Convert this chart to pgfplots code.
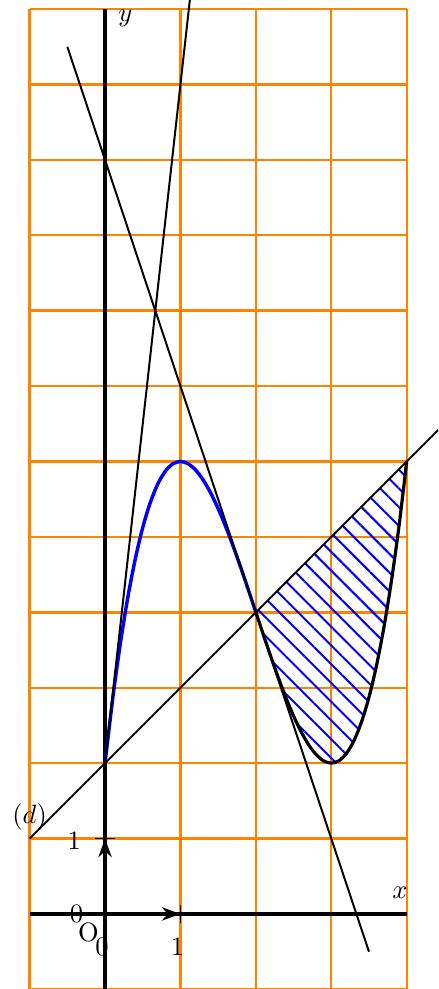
\documentclass[border=0pt]{standalone}
\usepackage{pgfplots}
\pgfplotsset{compat=1.18}
\usetikzlibrary{arrows.meta,patterns.meta}
\definecolor{gridOrange}{RGB}{255,130,0}
\begin{document}
\begin{tikzpicture}
\begin{axis}[name=ax,x=1cm,y=1cm,xmin=-1.393,xmax=4.416,ymin=-0.995,ymax=12.12,
  hide axis,clip=true]
% grid
\pgfplotsinvokeforeach{-1,...,4}{\addplot[gridOrange,line width=0.9pt] coordinates {(#1,-1)(#1,12)};}
\pgfplotsinvokeforeach{-1,...,12}{\addplot[gridOrange,line width=0.9pt] coordinates {(-1,#1)(4,#1)};}
% hatched area between (d) and the curve
\addplot[draw=none,pattern={Lines[angle=-45,distance=5pt,line width=0.75pt]},pattern color=blue]
 coordinates {(2,4)(2.1,3.701)(2.2,3.408)(2.3,3.127)(2.4,2.864)(2.5,2.625)(2.6,2.416)(2.7,2.243)
 (2.8,2.112)(2.9,2.029)(3,2)(3.1,2.031)(3.2,2.128)(3.3,2.297)(3.4,2.544)(3.5,2.875)(3.6,3.296)
 (3.7,3.813)(3.8,4.432)(3.9,5.159)(4,6)(2,4)};
% axes
\addplot[black,line width=1.2pt] coordinates {(-1,0)(4,0)};
\addplot[black,line width=1.2pt] coordinates {(0,-1)(0,12)};
\addplot[black,line width=1.6pt,-{Stealth[length=7pt,width=5pt]}] coordinates {(0,0)(1,0)};
\addplot[black,line width=1.6pt,-{Stealth[length=7pt,width=5pt]}] coordinates {(0,0)(0,1)};
\addplot[black,line width=0.5pt] coordinates {(1,-0.12)(1,0.12)};
\addplot[black,line width=0.5pt] coordinates {(-0.13,1)(0.13,1)};
% curve
\addplot[blue,line width=1.3pt,smooth] coordinates {(0,2)(0.1,2.841)(0.2,3.568)(0.3,4.187)(0.4,4.704)
 (0.5,5.125)(0.6,5.456)(0.7,5.703)(0.8,5.872)(0.9,5.969)(1,6)(1.1,5.971)(1.2,5.888)(1.3,5.757)
 (1.4,5.584)(1.5,5.375)(1.6,5.136)(1.7,4.873)(1.8,4.592)(1.9,4.299)(2,4)};
\addplot[black,line width=1.2pt,smooth] coordinates {(2,4)(2.1,3.701)(2.2,3.408)(2.3,3.127)(2.4,2.864)
 (2.5,2.625)(2.6,2.416)(2.7,2.243)(2.8,2.112)(2.9,2.029)(3,2)(3.1,2.031)(3.2,2.128)(3.3,2.297)
 (3.4,2.544)(3.5,2.875)(3.6,3.296)(3.7,3.813)(3.8,4.432)(3.9,5.159)(4,6)};
% tangents and line (d)
\addplot[black,line width=0.75pt] coordinates {(0,2)(1.125,12.125)};
\addplot[black,line width=0.75pt] coordinates {(-0.5,11.5)(3.5,-0.5)};
\addplot[black,line width=0.75pt] coordinates {(-1,1)(4.5,6.5)};
% labels
\node at (axis cs:0.27,11.88) {$y$};
\node at (axis cs:3.91,0.28) {$x$};
\node at (axis cs:-1.0,1.29) {$(d)$};
\node at (axis cs:-0.41,0.97) {1};
\node at (axis cs:-0.38,0.0) {0};
\node at (axis cs:-0.22,-0.25) {O};
\node at (axis cs:-0.04,-0.44) {0};
\node at (axis cs:0.96,-0.44) {1};
\end{axis}
\pgfresetboundingbox
\path (ax.south west) rectangle (ax.north east);
\end{tikzpicture}
\end{document}
